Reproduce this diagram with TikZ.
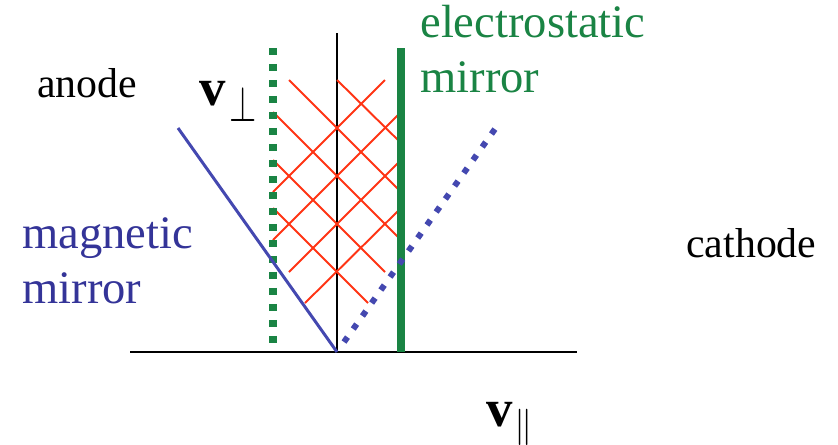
\documentclass[tikz,border=0pt]{standalone}
\usepackage{fontspec}
\setmainfont{Liberation Serif}
\definecolor{mirgreen}{RGB}{26,132,68}
\definecolor{magblue}{RGB}{68,72,176}
\definecolor{magtext}{RGB}{52,52,152}
\definecolor{latred}{RGB}{255,52,20}

\begin{document}
\begin{tikzpicture}[x=0.02cm, y=-0.02cm,
  lattice/.style={color=latred, line width=1.1pt},
  lab/.style={anchor=base west, inner sep=0pt, align=left}]
\useasboundingbox (0,0) rectangle (838,444);
% axes
\draw[line width=1.2pt] (130,352) -- (577,352);
\draw[line width=1.1pt] (337,33) -- (337,352);
% crossing paths between the mirrors
\foreach \xa/\ya/\xb/\yb in {337/80/401/143, 289/80/401/192, 273/112/401/240, 273/160/385/272, 273/208/368/303}
  \draw[lattice] (\xa,\ya) -- (\xb,\yb);
\foreach \xa/\ya/\xb/\yb in {385/80/273/192, 401/112/273/240, 401/160/289/272, 401/208/305/303}
  \draw[lattice] (\xa,\ya) -- (\xb,\yb);
% mirrors
\draw[color=mirgreen, line width=4pt, dash pattern=on 4pt off 5.1pt] (273,48) -- (273,345);
\draw[color=mirgreen, line width=4.5pt] (401,48) -- (401,352);
\draw[color=magblue, line width=1.7pt] (178,128) -- (337,352);
\draw[color=magblue, line width=3.4pt, dash pattern=on 3.4pt off 5.67pt] (344,342) -- (495,129);
% labels (base = last line)
\node[lab, font=\fontsize{23.8}{28}\selectfont] (anode) at (37,97) {anode};
\node[lab, font=\fontsize{23.8}{28}\selectfont] (cathode) at (686,257) {cathode};
\node[lab, text=magtext, font=\fontsize{26.5}{30.8}\selectfont] (magmirror) at (22,303) {magnetic\\mirror};
\node[lab, text=mirgreen, font=\fontsize{26.5}{31.2}\selectfont] (esmirror) at (420,92) {electrostatic\\mirror};
\node[lab, font=\fontsize{30}{32}\selectfont] (vperp) at (199,105)
  {\textbf{v}\hspace{2pt}\raisebox{-9.6pt}{\scalebox{0.8}[1.15]{\fontsize{24}{24}\selectfont$\perp$}}};
\node[lab, font=\fontsize{30}{32}\selectfont] (vpar) at (486,426)
  {\textbf{v}\hspace{1pt}\raisebox{-6pt}{\fontsize{21}{21}\selectfont$\parallel$}};
\end{tikzpicture}
\end{document}
